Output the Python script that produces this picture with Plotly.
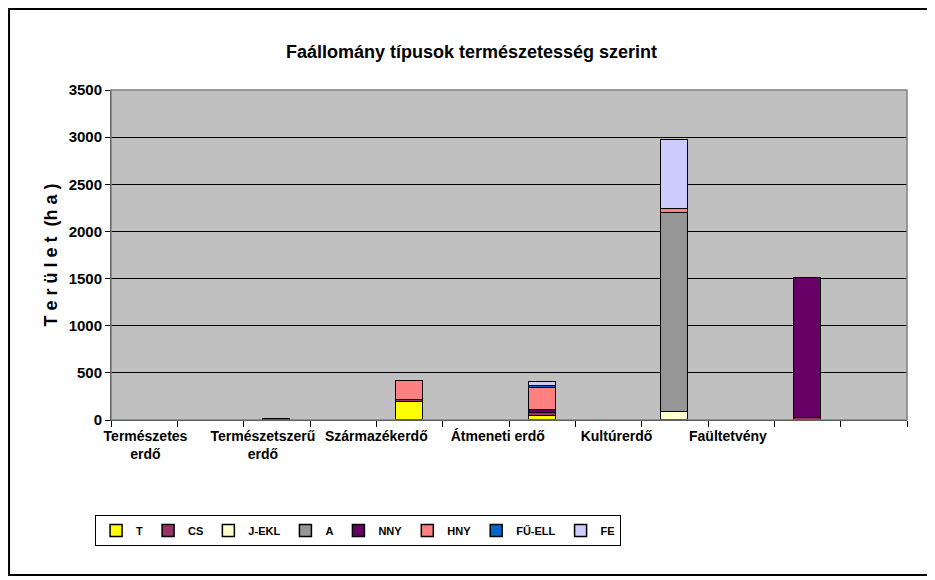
import plotly.graph_objects as go

categories = ["Természetes<br>erdő", "Természetszerű<br>erdő", "Származékerdő",
              "Átmeneti erdő", "Kultúrerdő", "Faültetvény"]
series_names = ["T", "CS", "J-EKL", "A", "NNY", "HNY", "FŰ-ELL", "FE"]
T      = [0, 0, 195, 40, 0, 0]
CS     = [0, 15, 12, 35, 0, 20]
J_EKL  = [0, 0, 0, 0, 85, 0]
A      = [0, 0, 0, 0, 2110, 0]
NNY    = [0, 0, 0, 30, 0, 1490]
HNY    = [0, 0, 210, 233, 45, 0]
FU_ELL = [0, 0, 0, 25, 0, 0]
FE     = [0, 0, 0, 40, 725, 0]
y_ticks = [0, 500, 1000, 1500, 2000, 2500, 3000, 3500]

series_values = [T, CS, J_EKL, A, NNY, HNY, FU_ELL, FE]
colors = ["#FFFF00", "#993366", "#FFFFCC", "#969696", "#660066", "#FF8080", "#0066CC", "#CCCCFF"]

# bar positions on a 12-slot category scale (every other slot holds a bar)
bar_x = [2 * i + 0.5 for i in range(len(categories))]
# observed label positions on the same scale
label_x = [0.52, 2.29, 4.0, 5.83, 7.62, 9.3]

FONT = "Liberation Sans, Arial, sans-serif"

fig = go.Figure()
for name, vals, col in zip(series_names, series_values, colors):
    fig.add_trace(go.Bar(
        x=bar_x, y=[v if v else None for v in vals], name=name, width=0.41,
        marker=dict(color=col, line=dict(color="black", width=1.5)),
    ))

fig.add_trace(go.Scatter(x=label_x, y=[None] * len(label_x), xaxis="x2",
                         showlegend=False, hoverinfo="skip"))

fig.update_layout(
    width=927, height=572,
    barmode="stack", bargap=0,
    paper_bgcolor="white", plot_bgcolor="#C0C0C0",
    margin=dict(l=103, r=28, t=82, b=160, autoexpand=False),
    font=dict(family=FONT, size=12, color="black"),
    title=dict(text="Faállomány típusok természetesség szerint",
               x=0.5, xref="container", xanchor="center",
               y=1 - 44 / 572, yanchor="middle", yref="container",
               font=dict(size=18, family=FONT, weight="bold")),
    xaxis=dict(range=[0, 12], tickvals=list(range(13)), showticklabels=False,
               ticks="outside", ticklen=6, tickcolor="black",
               showgrid=False, zeroline=False, showline=True, linecolor="black",
               linewidth=1),
    xaxis2=dict(range=[0, 12], overlaying="x", side="bottom",
                tickvals=label_x, ticktext=categories,
                ticks="", showgrid=False, zeroline=False, showline=False,
                ticklabelstandoff=6,
                tickfont=dict(size=14, family=FONT, weight="bold"), anchor="y"),
    yaxis=dict(range=[0, 3500], tickvals=y_ticks,
               ticks="outside", ticklen=5, tickcolor="black",
               showgrid=True, gridcolor="black", gridwidth=1,
               zeroline=False, showline=True, linecolor="black", linewidth=1,
               tickfont=dict(size=15, family=FONT, weight="bold"),
               title=dict(text="T e r ü l e t  (h a )", standoff=6,
                          font=dict(size=18, family=FONT, weight="bold"))),
    legend=dict(orientation="h", x=-0.02, y=-0.288, xanchor="left", yanchor="top",
                bordercolor="black", borderwidth=1, bgcolor="white",
                font=dict(size=11, family=FONT, weight="bold"), itemwidth=30,
                traceorder="normal", itemclick=False),
    shapes=[
        dict(type="rect", xref="paper", yref="paper", x0=0, x1=1, y0=0, y1=1,
             line=dict(color="#808080", width=1.5), layer="above"),
        dict(type="rect", xref="paper", yref="paper",
             x0=-0.1281, x1=1.0276, y0=-0.4697, y1=1.2455,
             line=dict(color="black", width=2)),
    ],
)

fig.write_html("out.html")
